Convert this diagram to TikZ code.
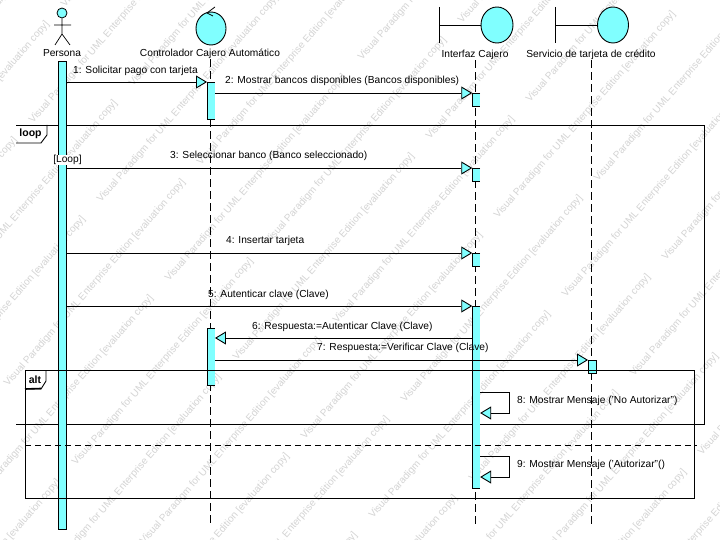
\documentclass[tikz,border=0pt]{standalone}
\usepackage{fontspec}
\setmainfont{Liberation Sans}
\usetikzlibrary{arrows.meta,shapes.geometric}
\definecolor{cy}{RGB}{128,255,255}
\definecolor{wm}{RGB}{212,212,212}
\tikzset{
  x=1pt,y=-1pt,
  lbl/.style={font=\fontsize{10.2}{11}\selectfont,inner sep=0pt,anchor=base west},
  lifeline/.style={dash pattern=on 8pt off 4pt,line width=0.9pt},
  bar/.style={draw=black,fill=cy,line width=0.9pt,minimum width=8pt,inner sep=0pt,anchor=north},
  barb/.style={fill=cy,minimum width=7.5pt,inner sep=0pt,anchor=north},
  msg/.style={line width=0.8pt,-{Triangle[open,length=11pt,width=13pt,fill=cy,line width=0.9pt]}},
  frame/.style={line width=0.9pt},
  ent/.style={draw=black,fill=cy,ellipse,line width=0.9pt,inner sep=0pt},
  wmk/.style={font=\fontsize{10}{11}\selectfont,text=wm,rotate=49,inner sep=0pt,anchor=base west}
}
\begin{document}
\begin{tikzpicture}
\useasboundingbox (0,0) rectangle (720,540);
\fill[white] (0,0) rectangle (720,540);
% watermark
\begin{scope}
\clip (0,0) rectangle (720,540);
\foreach \m in {0,1}{\foreach \i in {-11,...,5}{\foreach \j in {-3,...,3}{
  \pgfmathsetmacro{\wx}{305+\i*68+\j*193+\m*100}
  \pgfmathsetmacro{\wy}{440+\i*79-\j*221-\m*37}
  \pgfmathtruncatemacro{\ok}{(\wx>-190)&&(\wx<725)&&(\wy>-5)&&(\wy<750)?1:0}
  \ifnum\ok=1
  \node[wmk] at ({\wx},{\wy}) {Visual Paradigm for UML Enterprise Edition [evaluation copy]};
  \fi
}}}
\end{scope}
% frames
\coordinate (LTL) at (16,125); \coordinate (LTR) at (704,125); \coordinate (LBR) at (704,424); \coordinate (LBL) at (16,424);
\draw[frame] (LTL) -- (LTR) -- (LBR) -- (LBL);
\node[font=\fontsize{10.5}{11}\selectfont\bfseries,inner sep=0pt] (looptag) at (30.5,134) {loop};
\coordinate (ltA) at (47,125); \coordinate (ltB) at (47,135); \coordinate (ltC) at (41,143); \coordinate (ltD) at (16,143);
\draw[frame] (ltA) -- (ltB) -- (ltC) -- (ltD);
% lifelines
\node[ent,minimum width=30pt,minimum height=33pt] (ctrl) at (211,28.5) {};
\node[ent,minimum width=32pt,minimum height=36pt] (ifz) at (497,25) {};
\node[ent,minimum width=31pt,minimum height=36pt] (srv) at (613,25) {};
\node[lbl,anchor=base] (Lper) at (62,57) {Persona};
\node[lbl,anchor=base] (Lctrl) at (210,57) {Controlador Cajero Automático};
\node[lbl,anchor=base] (Lifz) at (475,58) {Interfaz Cajero};
\node[lbl,anchor=base] (Lsrv) at (591,58) {Servicio de tarjeta de crédito};
\coordinate (e1) at (210,527); \coordinate (e2) at (475.5,527); \coordinate (e3) at (591.5,527);
\draw[lifeline] (Lctrl.south -| e1) -- (e1);
\draw[lifeline] (Lifz.south -| e2) -- (e2);
\draw[lifeline] (Lsrv.south -| e3) -- (e3);
% activations
\node[bar,minimum height=468pt] (aP) at (62.5,61) {};
\node[barb,minimum height=37pt] (aC1) at (211,82) {};
\node[barb,minimum height=57pt] (aC2) at (211,328) {};
\node[barb,minimum height=13pt] (aI1) at (476.2,93) {};
\node[barb,minimum height=13pt] (aI2) at (476.2,168) {};
\node[barb,minimum height=13pt] (aI3) at (476.2,253) {};
\node[barb,minimum height=182pt] (aI4) at (476.2,306) {};
\foreach \b in {aC1,aC2,aI1,aI2,aI3,aI4}
  \draw[line width=0.9pt] (\b.north east) -- (\b.north west) -- (\b.south west) -- (\b.south east);
\node[bar,minimum height=13pt] (aS) at (592.5,360) {};
% actor
\node[circle,draw=black,fill=cy,line width=0.8pt,minimum size=10pt,inner sep=0pt] (head) at (62,13) {};
\coordinate (hip) at (62,34); \coordinate (armL) at (54,25); \coordinate (armR) at (71,25);
\coordinate (legL) at (55,45); \coordinate (legR) at (70,45);
\draw[line width=0.7pt] (head.south) -- (hip) (armL) -- (armR) (legL) -- (hip) -- (legR);
% control arrow
\coordinate (ca1) at (215,7); \coordinate (ca2) at (207,13); \coordinate (ca3) at (213,16);
\draw[line width=0.8pt] (ca1) -- (ca2) -- (ca3);
% boundary bars
\coordinate (b1t) at (439,7); \coordinate (b1b) at (439,43); \coordinate (b1m) at (439,25);
\coordinate (b2t) at (555,7); \coordinate (b2b) at (555,43); \coordinate (b2m) at (555,25);
\draw[line width=0.8pt] (b1t) -- (b1b) (b1m) -- (ifz.west);
\draw[line width=0.8pt] (b2t) -- (b2b) (b2m) -- (srv.west);
% alt frame
\coordinate (AL) at (25,370); \coordinate (AR) at (694.5,370); \coordinate (ABR) at (694.5,498); \coordinate (ABL) at (25,498);
\draw[frame] (AL) -- (AR) -- (ABR) -- (ABL) -- cycle;
\node[font=\fontsize{10.5}{11}\selectfont\bfseries,inner sep=0pt] (alttag) at (35,379.5) {alt};
\coordinate (atA) at (46,370); \coordinate (atB) at (46,381); \coordinate (atC) at (41,389); \coordinate (atD) at (25,389);
\draw[frame] (atA) -- (atB) -- (atC) -- (atD);
\coordinate (atE) at (41,388.5);
\draw[line width=1.6pt] (atD) -- (atE);
\coordinate (dsL) at (25,445); \coordinate (dsR) at (697,445);
\draw[frame,dash pattern=on 6pt off 4pt] (dsL) -- (dsR);
% messages
\node[lbl] (t1) at (73,73.5) {1: Solicitar pago con tarjeta};
\draw[msg] (aP.east |- 0,82) -- (aC1.north west);
\node[lbl] (t2) at (225,83.5) {2: Mostrar bancos disponibles (Bancos disponibles)};
\draw[msg] (aC1.east |- 0,93) -- (aI1.north west);
\node[fill=white,inner sep=0.5pt,font=\fontsize{10.2}{11}\selectfont] (guard) at (67.5,160) {[Loop]};
\node[lbl] (t3) at (170,158.5) {3: Seleccionar banco (Banco seleccionado)};
\draw[msg] (aP.east |- 0,168) -- (aI2.north west);
\node[lbl] (t4) at (226,243.5) {4: Insertar tarjeta};
\draw[msg] (aP.east |- 0,253) -- (aI3.north west);
\node[lbl] (t5) at (208,297.5) {5: Autenticar clave (Clave)};
\draw[msg] (aP.east |- 0,306) -- (aI4.north west);
\node[lbl] (t6) at (252,329.5) {6: Respuesta:=Autenticar Clave (Clave)};
\draw[msg] (aI4.west |- 0,338) -- (aC2.east |- 0,338);
\node[lbl] (t7) at (317,350.5) {7: Respuesta:=Verificar Clave (Clave)};
\draw[msg] (aC2.east |- 0,360) -- (aS.north west);
\node[lbl] (t8) at (517,403.5) {8: Mostrar Mensaje ('No Autorizar")};
\draw[msg] (aI4.east |- 0,392) -- (509,392) -- (509,413) -- (aI4.east |- 0,413);
\node[lbl] (t9) at (517,467.5) {9: Mostrar Mensaje ('Autorizar"()};
\draw[msg] (aI4.east |- 0,456) -- (509,456) -- (509,477) -- (aI4.east |- 0,477);
\end{tikzpicture}
\end{document}
